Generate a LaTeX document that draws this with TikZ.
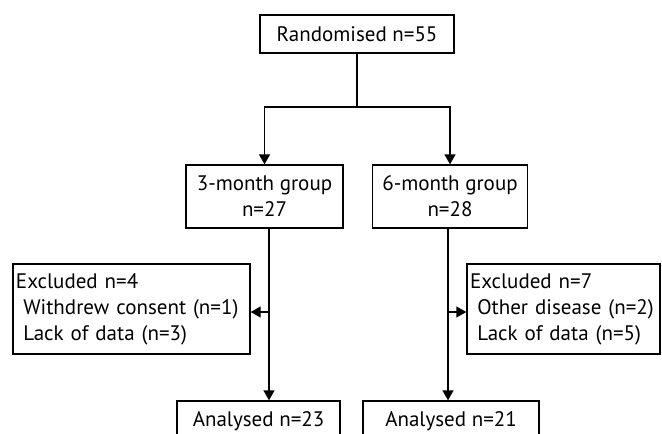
\documentclass[tikz,border=0pt]{standalone}
\usepackage{fontspec}
\setmainfont{PT Sans}
\usetikzlibrary{arrows.meta}
\begin{document}
\begin{tikzpicture}[x=1pt, y=-1pt, line width=1.3pt,
        font=\fontsize{21}{26}\selectfont,
        box/.style = {draw, rectangle, inner sep=0pt, align=center},
        excl/.style = {draw, rectangle, inner xsep=3pt, inner ysep=0pt, align=left, minimum height=90pt},
        arr/.style = {-{Triangle[width=11pt,length=10pt]}}]
    \useasboundingbox (0,0) rectangle (662,434);
    \clip (0,0) rectangle (662,434);
    \node[box, minimum width=194pt, minimum height=38pt] (rand) at (357,34) {Randomised n=55};
    \node[box, minimum width=157pt, minimum height=63pt] (g3) at (264.5,196.5) {3-month group\\n=27};
    \node[box, minimum width=155pt, minimum height=63pt] (g6) at (450,196.5) {6-month group\\n=28};
    \node[excl, text width=231pt] (ex3) at (131.5,309) {Excluded n=4\\\hspace*{0.35em}Withdrew consent (n=1)\\\hspace*{0.35em}Lack of data (n=3)};
    \node[excl, text width=187pt] (ex6) at (563.5,309) {Excluded n=7\\\hspace*{0.35em}Other disease (n=2)\\\hspace*{0.35em}Lack of data (n=5)};
    \node[box, minimum width=163pt, minimum height=40pt] (an3) at (258.5,421) {Analysed n=23};
    \node[box, minimum width=176pt, minimum height=40pt] (an6) at (451,421) {Analysed n=21};
    \coordinate (split) at (357,107);
    \coordinate (b3) at (269,312);
    \coordinate (b6) at (448,312);
    \draw (rand) -- (split);
    \draw[arr] (split) -| (g3.north);
    \draw[arr] (split) -| (g6.north);
    \draw[arr] (g3.south -| b3) -- (an3.north -| b3);
    \draw[arr] (b3) -- (b3 -| ex3.east);
    \draw[arr] (g6.south -| b6) -- (an6.north -| b6);
    \draw[arr] (b6) -- (b6 -| ex6.west);
\end{tikzpicture}
\end{document}
